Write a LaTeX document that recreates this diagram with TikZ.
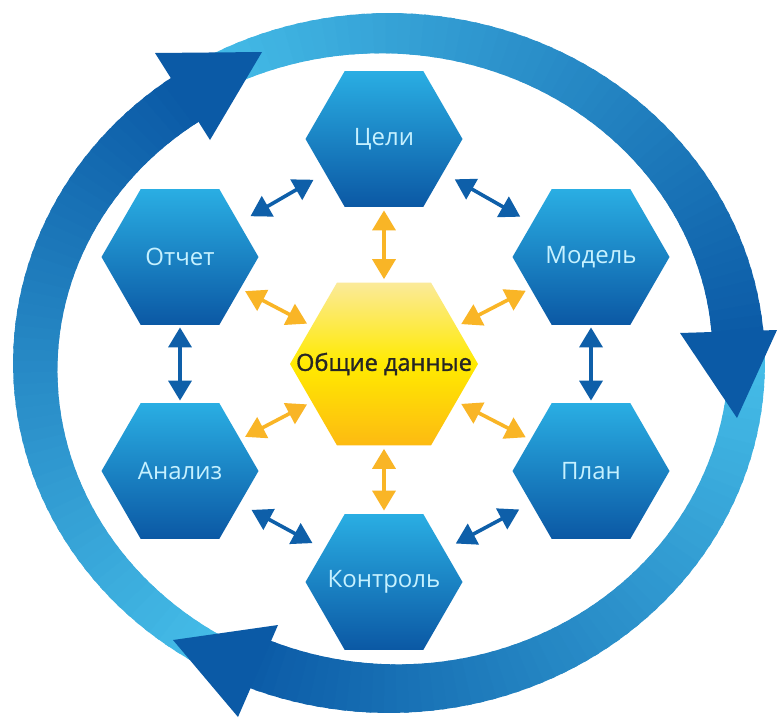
\documentclass[tikz,border=0pt]{standalone}
\usepackage{fontspec}
\setmainfont{Open Sans}
\newfontfamily\semib[FakeBold=1.3]{Open Sans}
\usetikzlibrary{shapes.geometric,arrows.meta}
\definecolor{ringlight}{HTML}{45BDE8}
\definecolor{ringdark}{HTML}{0B5AA6}
\definecolor{hextop}{HTML}{2AAEE3}
\definecolor{hexbot}{HTML}{0B58A4}
\definecolor{hextext}{HTML}{C6F1FF}
\definecolor{ytop}{HTML}{FBEA9A}
\definecolor{ymid}{HTML}{FFEA00}
\definecolor{ybot}{HTML}{FDBA12}
\definecolor{yarrowc}{HTML}{F9B526}
\definecolor{barrowc}{HTML}{0E5FA9}
\def\ringcx{389}
\def\ringcy{363}
\def\ringrx{376}
\def\ringry{350}
\newcommand{\hexlbl}[1]{\makebox[0pt]{#1}}
\newcommand{\ringarrow}[4]{%
  \foreach \i in {0,...,59}{
    \pgfmathsetmacro{\ta}{#1+(#2-#1)*\i/60}
    \pgfmathsetmacro{\tb}{#1+(#2-#1)*(\i+1.4)/60}
    \pgfmathsetmacro{\wa}{#3+(#4-#3)*\i/60}
    \pgfmathsetmacro{\wb}{#3+(#4-#3)*(\i+1.4)/60}
    \pgfmathtruncatemacro{\p}{100*\i/59}
    \fill[ringdark!\p!ringlight]
      ({\ringcx+\ringrx*cos(\ta)},{\ringcy-\ringry*sin(\ta)}) --
      ({\ringcx+\ringrx*cos(\tb)},{\ringcy-\ringry*sin(\tb)}) --
      ({\ringcx+(\ringrx-\wb)*cos(\tb)},{\ringcy-(\ringry-\wb)*sin(\tb)}) --
      ({\ringcx+(\ringrx-\wa)*cos(\ta)},{\ringcy-(\ringry-\wa)*sin(\ta)}) -- cycle;
  }}
\begin{document}
\begin{tikzpicture}[x=0.5pt,y=-0.5pt,
  hexnode/.style={regular polygon, regular polygon sides=6, minimum size=78.5pt,
    inner sep=0pt, top color=hextop, bottom color=hexbot, draw=none,
    text=hextext, font=\fontsize{12}{14}\selectfont},
  yhex/.style={regular polygon, regular polygon sides=6, minimum size=94pt,
    inner sep=0pt, top color=ytop, bottom color=ybot, middle color=ymid, draw=none,
    text=black!85, font=\semib\fontsize{11.8}{14}\selectfont},
  bluearr/.style={draw=barrowc, line width=1.8pt,
    {Triangle[length=10pt,width=11.5pt]}-{Triangle[length=10pt,width=11.5pt]}},
  yelarr/.style={draw=yarrowc, line width=1.8pt,
    {Triangle[length=10pt,width=11.5pt]}-{Triangle[length=10pt,width=11.5pt]}},
  headfill/.style={fill=ringdark}
]
\fill[white] (0,0) rectangle (777,718);
\useasboundingbox (0,0) rectangle (777,718);

% ring arrows
\ringarrow{242}{125}{36}{52}
\ringarrow{122}{4}{36}{52}
\ringarrow{2}{-114}{36}{52}
\fill[headfill] (155,53) -- (262,52) -- (210,140) -- cycle;
\fill[headfill] (680,333) -- (777,330) -- (737,418) -- cycle;
\fill[headfill] (173,640) -- (278,625) -- (238,717) -- cycle;

% hexagons
\node[hexnode] (celi) at (384,139) {\hexlbl{Цели}};
\node[hexnode] (otchet) at (180,257) {\hexlbl{Отчет}};
\node[hexnode] (model) at (591,257) {\hexlbl{Модель}};
\node[hexnode] (analiz) at (180,471) {\hexlbl{Анализ}};
\node[hexnode] (plan) at (591,471) {\hexlbl{План}};
\node[hexnode] (kontrol) at (384,582) {\hexlbl{Контроль}};
\node[yhex] (data) at (384,364) {\hexlbl{Общие данные}};

% blue connectors
\draw[bluearr, shorten <=6.5pt, shorten >=6.5pt] (otchet) -- (celi);
\draw[bluearr, shorten <=6.5pt, shorten >=6.5pt] (celi) -- (model);
\draw[bluearr, shorten <=1pt, shorten >=1pt] (otchet) -- (analiz);
\draw[bluearr, shorten <=1pt, shorten >=1pt] (model) -- (plan);
\draw[bluearr, shorten <=6.5pt, shorten >=6.5pt] (analiz) -- (kontrol);
\draw[bluearr, shorten <=6.5pt, shorten >=6.5pt] (plan) -- (kontrol);

% yellow connectors
\draw[yelarr, shorten <=1.5pt, shorten >=1.5pt] (data) -- (celi);
\draw[yelarr, shorten <=1.5pt, shorten >=1.5pt] (data) -- (kontrol);
\draw[yelarr, shorten <=2.5pt, shorten >=2.5pt] (data) -- (otchet);
\draw[yelarr, shorten <=2.5pt, shorten >=2.5pt] (data) -- (model);
\draw[yelarr, shorten <=2.5pt, shorten >=2.5pt] (data) -- (analiz);
\draw[yelarr, shorten <=2.5pt, shorten >=2.5pt] (data) -- (plan);
\end{tikzpicture}
\end{document}
